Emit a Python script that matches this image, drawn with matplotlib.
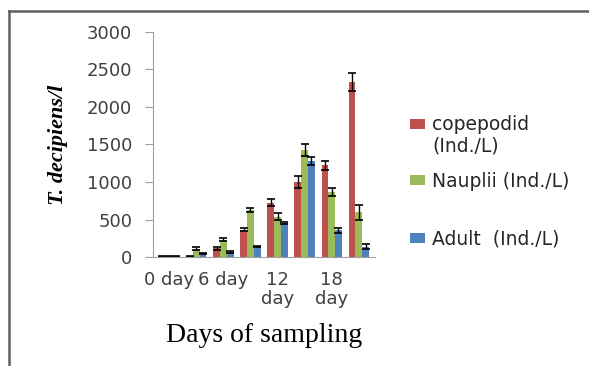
import matplotlib
matplotlib.use("Agg")
import matplotlib.pyplot as plt
from matplotlib.lines import Line2D
from matplotlib.patches import Rectangle
import numpy as np

# sampling days (every 3 days), only every other one is labelled on the axis
days = ["0 day", "3 day", "6 day", "9 day", "12 day", "15 day", "18 day", "21 day"]
tick_labels = ["0 day", "6 day", "12\nday", "18\nday"]

copepodid = [10, 12, 115, 365, 725, 1000, 1220, 2330]
nauplii = [8, 110, 230, 630, 540, 1420, 870, 600]
adult = [5, 50, 70, 140, 450, 1280, 355, 140]

copepodid_err = [5, 8, 20, 20, 50, 80, 60, 120]
nauplii_err = [5, 20, 20, 30, 50, 80, 50, 100]
adult_err = [3, 10, 10, 10, 15, 50, 30, 30]

series = [
    ("copepodid", copepodid, copepodid_err, "#C0504D"),
    ("Nauplii (Ind./L)", nauplii, nauplii_err, "#9BBB59"),
    ("Adult  (Ind./L)", adult, adult_err, "#4F81BD"),
]

fig = plt.figure(figsize=(5.89, 3.66), dpi=100)
ax = fig.add_axes([0.2598, 0.2978, 0.3769, 0.6148])

x = np.arange(len(days))
width = 0.25
handles = []
for i, (label, vals, errs, color) in enumerate(series):
    b = ax.bar(x + (i - 1) * width, vals, width, color=color, label=label,
               yerr=errs, capsize=3,
               error_kw=dict(ecolor="black", elinewidth=1, capthick=1.2))
    handles.append(b)

ax.set_xlim(-0.6, 7.6)
ax.set_ylim(0, 3000)
ax.set_yticks(range(0, 3001, 500))
ax.tick_params(axis="y", labelsize=13, length=6, color="#A0A0A0", pad=9)
for t in ax.get_yticklabels():
    t.set_color("#404040")

ax.set_xticks(x[::2])
ax.set_xticklabels(tick_labels, fontsize=13, color="#404040", linespacing=1.1)
ax.tick_params(axis="x", length=0, pad=10)

for side in ["top", "right"]:
    ax.spines[side].set_visible(False)
for side in ["left", "bottom"]:
    ax.spines[side].set_color("#A0A0A0")

ax.set_ylabel("T. decipiens/l", family="Liberation Serif", fontsize=16,
              fontweight="bold", style="italic")
ax.yaxis.set_label_coords(-0.385, 0.5)
ax.set_xlabel("Days of sampling", family="Liberation Serif", fontsize=20)
ax.xaxis.set_label_coords(0.5, -0.295)

# legend entries sit at uneven heights, one legend per entry;
# the copepodid label wraps with its swatch on the first line
blank = Rectangle((0, 0), 1, 1, alpha=0)
legend_items = [
    ([handles[0], blank], ["copepodid", "(Ind./L)"], 0.685),
    ([handles[1]], [series[1][0]], 0.530),
    ([handles[2]], [series[2][0]], 0.372),
]
for hs, labels, ly in legend_items:
    lg = fig.legend(hs, labels, loc="upper left", bbox_to_anchor=(0.696, ly),
                    frameon=False, fontsize=13.5, handlelength=0.8,
                    handleheight=0.45, handletextpad=0.4, labelspacing=0.12,
                    borderpad=0, borderaxespad=0)
    for t in lg.get_texts():
        t.set_color("#262626")

# outer frame of the figure box
fig.add_artist(Line2D([9 / 589, 9 / 589], [0, 1 - 11 / 366], color="#606060",
                      lw=1.8, transform=fig.transFigure))
fig.add_artist(Line2D([9 / 589, 1], [1 - 11 / 366, 1 - 11 / 366], color="#606060",
                      lw=1.8, transform=fig.transFigure))

fig.savefig("out.png", dpi=100)
